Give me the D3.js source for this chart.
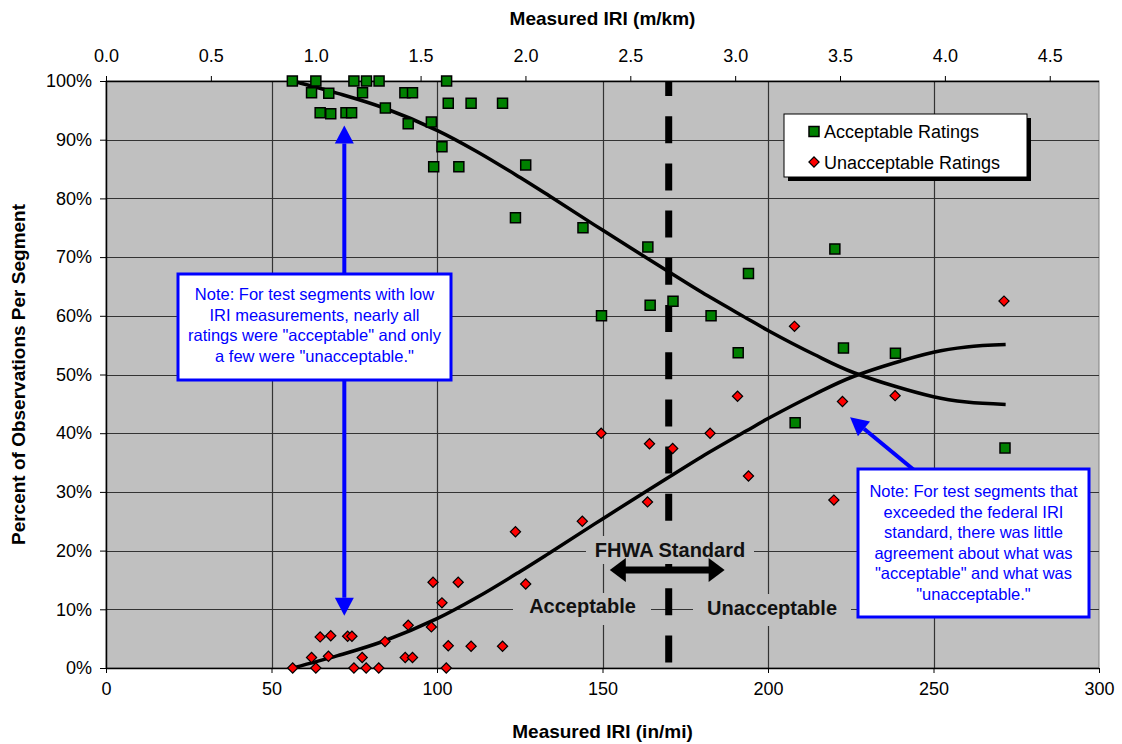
<!DOCTYPE html>
<html><head><meta charset="utf-8">
<script src="https://cdn.jsdelivr.net/npm/d3@7"></script>
<style>
html,body{margin:0;padding:0;background:#fff;}
svg{display:block;font-family:"Liberation Sans",Arial,sans-serif;}
</style></head>
<body>
<svg id="chart" width="1122" height="744"></svg>
<script>
// ---------------- DATA ----------------
const acceptX = [56.3,63.4,62.1,67.3,64.7,67.9,72.5,74.2,74.9,77.5,78.7,82.5,84.4,90.3,92.6,91.3,98.3,102.9,103.4,110.3,119.8,101.5,99.0,106.6,126.8,123.7,144.1,163.7,194.1,220.2,149.7,164.4,171.3,182.8,191.0,222.8,208.2,238.5,271.6];
const acceptY = [100,100,98.0,97.9,94.6,94.4,94.6,94.6,100,98.0,100,100,95.4,98.0,98.0,92.7,93.0,100,96.2,96.2,96.2,88.8,85.4,85.4,85.7,76.7,75.0,71.7,67.2,71.4,60.0,61.8,62.5,60.0,53.7,54.5,41.8,53.6,37.5];
const unacceptX = [56.4,63.4,62.1,67.2,64.7,67.9,73.0,74.3,74.9,77.4,78.6,82.4,84.3,90.4,92.6,91.3,98.3,102.8,103.4,110.3,119.8,101.5,98.8,106.4,126.8,123.7,143.9,163.6,194.1,219.9,149.6,164.2,171.2,182.5,190.8,222.5,208.0,238.4,271.3];
const unacceptY = [0,0,1.8,2.0,5.3,5.5,5.4,5.4,0,1.8,0,0,4.5,1.8,1.8,7.3,7.0,0,3.8,3.7,3.7,11.1,14.6,14.6,14.3,23.2,25.0,28.3,32.7,28.6,40.0,38.2,37.4,40.0,46.3,45.4,58.2,46.4,62.5];
// trend lines
const trendX = [56.4,70,84,100,112,125,134,150,170,180,193.5,200,214,226,250,260,271.8];
const trendAcceptY = [100,97.9,95.4,91.6,88.0,83.6,80.4,74.6,67.5,64.0,59.6,57.5,53.4,50.3,46.2,45.3,44.9];
const trendUnacceptY = [0,2.1,4.6,8.4,12.0,16.4,19.6,25.4,32.5,36.0,40.4,42.5,46.6,49.7,53.8,54.7,55.1];
const fhwaStandard = 170; // in/mi
const xTicks = [0,50,100,150,200,250,300];
const yTicks = [0,10,20,30,40,50,60,70,80,90,100];
const topTicks = [0,0.5,1.0,1.5,2.0,2.5,3.0,3.5,4.0,4.5];
const inPerMiPerMkm = 63.36;
const seriesNames = ["Acceptable Ratings","Unacceptable Ratings"];
const noteLeft = ["Note: For test segments with low","IRI measurements, nearly all","ratings were \"acceptable\" and only","a few were \"unacceptable.\""];
const noteRight = ["Note: For test segments that","exceeded the federal IRI","standard, there was little","agreement about what was","\"acceptable\" and what was","\"unacceptable.\""];

// ---------------- LAYOUT ----------------
const L = 106, R = 1099, T = 81, B = 668;
const svg = d3.select("#chart");
const x = d3.scaleLinear().domain([0,300]).range([L,R]);
const xTop = d3.scaleLinear().domain([0,300/inPerMiPerMkm]).range([L,R]);
const y = d3.scaleLinear().domain([0,100]).range([B,T]);
const FONT = "'Liberation Sans',Arial,sans-serif";

// plot background
svg.append("rect").attr("x",L).attr("y",T).attr("width",R-L).attr("height",B-T).attr("fill","#c0c0c0").attr("stroke","#808080").attr("stroke-width",1);

// gridlines
const grid = svg.append("g").attr("stroke","#333").attr("stroke-width",1.2);
yTicks.filter(v=>v>0&&v<100).forEach(v=>{
  grid.append("line").attr("x1",L).attr("x2",R).attr("y1",Math.round(y(v))+0.5).attr("y2",Math.round(y(v))+0.5);
});
xTicks.filter(v=>v>0&&v<300).forEach(v=>{
  grid.append("line").attr("y1",T).attr("y2",B).attr("x1",Math.round(x(v))+0.5).attr("x2",Math.round(x(v))+0.5);
});

// FHWA dashed standard line
svg.append("line").attr("x1",x(fhwaStandard)).attr("x2",x(fhwaStandard)).attr("y1",y(100)).attr("y2",y(0))
  .attr("stroke","#000").attr("stroke-width",7).attr("stroke-dasharray","27,20.2").attr("stroke-dashoffset",12);

// in-plot labels with background boxes
function bgLabel(txt, cx, baseline, x0, x1, y0, y1){
  svg.append("rect").attr("x",x0).attr("y",y0).attr("width",x1-x0).attr("height",y1-y0).attr("fill","#c0c0c0");
  svg.append("text").attr("x",cx).attr("y",baseline).attr("text-anchor","middle")
    .attr("font-family",FONT).attr("font-size",20).attr("font-weight","bold").attr("fill","#111").text(txt);
}
bgLabel("FHWA Standard", 670, 557, 586, 754, 536, 564);
bgLabel("Acceptable", 582.5, 613, 513, 651, 593, 625);
bgLabel("Unacceptable", 772, 615, 693, 851, 594, 626);

// double arrow under FHWA label
(function(){
  const x0 = x(152.2), x1 = x(186.9), yy = 570;
  const g = svg.append("g").attr("fill","#000");
  g.append("rect").attr("x",x0+14).attr("y",yy-3.5).attr("width",x1-x0-28).attr("height",7);
  g.append("path").attr("d",`M${x0},${yy} L${x0+16},${yy-12} L${x0+16},${yy+12} Z`);
  g.append("path").attr("d",`M${x1},${yy} L${x1-16},${yy-12} L${x1-16},${yy+12} Z`);
})();

// axes lines
svg.append("line").attr("x1",L).attr("x2",R).attr("y1",B+0.5).attr("y2",B+0.5).attr("stroke","#000").attr("stroke-width",1.5);
svg.append("line").attr("x1",L).attr("x2",R).attr("y1",T+0.5).attr("y2",T+0.5).attr("stroke","#000").attr("stroke-width",1.5);
svg.append("line").attr("x1",L+0.5).attr("x2",L+0.5).attr("y1",T).attr("y2",B).attr("stroke","#000").attr("stroke-width",1.5);

// bottom axis
const xAxis = d3.axisBottom(x).tickValues(xTicks).tickSize(5).tickPadding(9).tickFormat(d3.format("d"));
const gx = svg.append("g").attr("transform",`translate(0,${B})`).call(xAxis);
gx.select(".domain").remove();
gx.selectAll("text").attr("font-family",FONT).attr("font-size",18).attr("fill","#000");
gx.selectAll("line").attr("stroke","#000");

// top axis (m/km)
const xTopAxis = d3.axisTop(xTop).tickValues(topTicks).tickSize(5).tickPadding(14).tickFormat(d3.format(".1f"));
const gt = svg.append("g").attr("transform",`translate(0,${T})`).call(xTopAxis);
gt.select(".domain").remove();
gt.selectAll("text").attr("font-family",FONT).attr("font-size",18).attr("fill","#000");
gt.selectAll("line").attr("stroke","#000");

// left axis
const yAxis = d3.axisLeft(y).tickValues(yTicks).tickSize(6).tickPadding(8).tickFormat(d=>d+"%");
const gy = svg.append("g").attr("transform",`translate(${L},0)`).call(yAxis);
gy.select(".domain").remove();
gy.selectAll("text").attr("font-family",FONT).attr("font-size",18).attr("fill","#000");
gy.selectAll("line").attr("stroke","#000");

// titles
svg.append("text").attr("x",(L+R)/2).attr("y",25).attr("text-anchor","middle").attr("font-family",FONT)
  .attr("font-size",19).attr("font-weight","bold").text("Measured IRI (m/km)");
svg.append("text").attr("x",(L+R)/2).attr("y",738).attr("text-anchor","middle").attr("font-family",FONT)
  .attr("font-size",19).attr("font-weight","bold").text("Measured IRI (in/mi)");
svg.append("text").attr("transform",`translate(25,${(T+B)/2}) rotate(-90)`).attr("text-anchor","middle").attr("font-family",FONT)
  .attr("font-size",19).attr("font-weight","bold").text("Percent of Observations Per Segment");

// trend curves
const line = d3.line().x(d=>x(d[0])).y(d=>y(d[1])).curve(d3.curveCatmullRom.alpha(0.5));
svg.append("path").attr("d",line(trendX.map((v,i)=>[v,trendAcceptY[i]]))).attr("fill","none").attr("stroke","#000").attr("stroke-width",3.5);
svg.append("path").attr("d",line(trendX.map((v,i)=>[v,trendUnacceptY[i]]))).attr("fill","none").attr("stroke","#000").attr("stroke-width",3.5);

// markers
const sq = d3.symbol().type(d3.symbolSquare).size(100);
const dia = d3.symbol().type(d3.symbolSquare).size(52);
svg.append("g").selectAll("path").data(unacceptX.map((v,i)=>[v,unacceptY[i]])).join("path")
  .attr("d",dia).attr("transform",d=>`translate(${x(d[0])},${y(d[1])}) rotate(45)`)
  .attr("fill","#ff0000").attr("stroke","#000").attr("stroke-width",1.2);
svg.append("g").selectAll("path").data(acceptX.map((v,i)=>[v,acceptY[i]])).join("path")
  .attr("d",sq).attr("transform",d=>`translate(${x(d[0])},${y(d[1])})`)
  .attr("fill","#008000").attr("stroke","#000").attr("stroke-width",1.5);

// legend
(function(){
  const lx=784, ly=114, lw=243, lh=63;
  svg.append("rect").attr("x",lx+4).attr("y",ly+4).attr("width",lw).attr("height",lh).attr("fill","#000");
  svg.append("rect").attr("x",lx).attr("y",ly).attr("width",lw).attr("height",lh).attr("fill","#fff").attr("stroke","#000").attr("stroke-width",1);
  svg.append("path").attr("d",sq).attr("transform",`translate(814,131.5)`).attr("fill","#008000").attr("stroke","#000").attr("stroke-width",1.5);
  svg.append("path").attr("d",dia).attr("transform",`translate(814,162) rotate(45)`).attr("fill","#ff0000").attr("stroke","#000").attr("stroke-width",1.2);
  svg.append("text").attr("x",824).attr("y",138).attr("font-family",FONT).attr("font-size",18).text(seriesNames[0]);
  svg.append("text").attr("x",824).attr("y",169).attr("font-family",FONT).attr("font-size",18).text(seriesNames[1]);
})();

// annotation arrows (blue)
function arrow(x0,y0,x1,y1){
  const ang = Math.atan2(y1-y0,x1-x0), hl=18, hw=9.5;
  const bx = x1 - hl*Math.cos(ang), by = y1 - hl*Math.sin(ang);
  svg.append("line").attr("x1",x0).attr("y1",y0).attr("x2",bx).attr("y2",by).attr("stroke","#0000ff").attr("stroke-width",4);
  const px = -Math.sin(ang)*hw, py = Math.cos(ang)*hw;
  svg.append("path").attr("d",`M${x1},${y1} L${bx+px},${by+py} L${bx-px},${by-py} Z`).attr("fill","#0000ff");
}
arrow(x(72), 276, x(72), y(92.4));
arrow(x(72), 378, x(72), y(8.9));
arrow(914, 470, x(224.8), y(42.7));

// note boxes
function note(lines, x0, y0, w, h, cx, b0, lhgt){
  svg.append("rect").attr("x",x0).attr("y",y0).attr("width",w).attr("height",h).attr("fill","#fff").attr("stroke","#0000ff").attr("stroke-width",3);
  const t = svg.append("text").attr("font-family",FONT).attr("font-size",16.5).attr("fill","#0000ff").attr("text-anchor","middle");
  lines.forEach((s,i)=>t.append("tspan").attr("x",cx).attr("y",b0+i*lhgt).text(s));
}
note(noteLeft, 178, 274, 273, 106, 314.5, 300, 20.7);
note(noteRight, 858, 469, 231, 148, 973.5, 497, 20.6);
</script>
</body></html>
